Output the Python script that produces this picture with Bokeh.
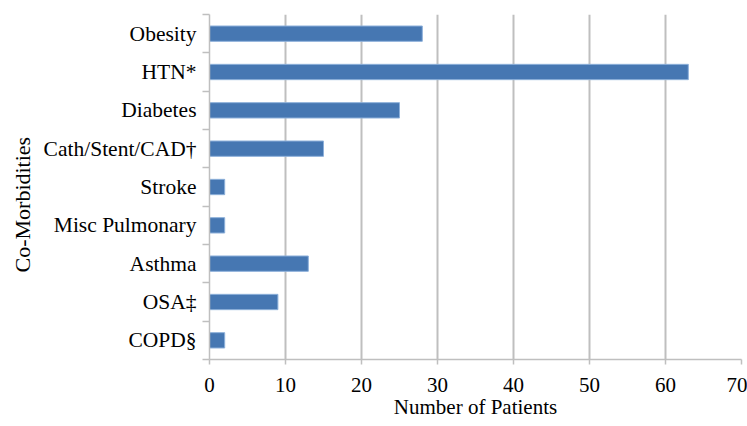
import math
from bokeh.plotting import figure
from bokeh.models import Range1d, FixedTicker, ColumnDataSource, Title
from bokeh.embed import file_html
from bokeh.resources import INLINE

categories = ["Obesity", "HTN*", "Diabetes", "Cath/Stent/CAD\u2020", "Stroke",
              "Misc Pulmonary", "Asthma", "OSA\u2021", "COPD\u00a7"]
values = [28, 63, 25, 15, 2, 2, 13, 9, 2]
x_ticks = [0, 10, 20, 30, 40, 50, 60, 70]
x_title = "Number of Patients"
y_title = "Co-Morbidities"

n = len(categories)
ypos = [n - i - 0.5 for i in range(n)]

src = ColumnDataSource(dict(y=ypos, v=values, c=categories))

FONT = "Liberation Serif"
GRID = "#BFBFBF"

p = figure(width=747, height=426, output_backend="svg", toolbar_location=None,
           x_range=Range1d(0, 70), y_range=Range1d(0, n),
           min_border_left=209, min_border_right=6, min_border_top=14, min_border_bottom=67)
p.outline_line_color = None
p.background_fill_color = "white"

p.hbar(y="y", right="v", left=0, height=0.4, source=src,
       fill_color="#4677B2", line_color="#8DB0DA", line_width=1)

# x axis
p.xaxis.ticker = FixedTicker(ticks=x_ticks)
p.xaxis.axis_label = x_title
p.xaxis.axis_label_text_font = FONT
p.xaxis.axis_label_text_font_size = "21px"
p.xaxis.axis_label_text_font_style = "normal"
p.xaxis.axis_label_text_color = "black"
p.xaxis.axis_label_standoff = 0
p.xaxis.major_label_text_font = FONT
p.xaxis.major_label_text_font_size = "21px"
p.xaxis.major_label_text_color = "black"
p.xaxis.major_label_standoff = 13
p.xaxis.axis_line_color = GRID
p.xaxis.axis_line_width = 1.5
p.xaxis.major_tick_line_color = GRID
p.xaxis.major_tick_line_width = 1.5
p.xaxis.major_tick_out = 5
p.xaxis.major_tick_in = 0
p.xaxis.minor_tick_line_color = None

# y axis
p.yaxis.ticker = FixedTicker(ticks=ypos, minor_ticks=list(range(n + 1)))
p.yaxis.major_label_overrides = {y: c for y, c in zip(ypos, categories)}
p.yaxis.major_label_text_font = FONT
p.yaxis.major_label_text_font_size = "21.5px"
p.yaxis.major_label_text_color = "black"
p.yaxis.major_label_standoff = 6
p.yaxis.major_tick_line_color = None
p.yaxis.minor_tick_line_color = GRID
p.yaxis.minor_tick_line_width = 1.5
p.yaxis.minor_tick_out = 7
p.yaxis.minor_tick_in = 0
p.yaxis.axis_line_color = GRID
p.yaxis.axis_line_width = 1.5

p.xgrid.grid_line_color = GRID
p.xgrid.grid_line_width = 2
p.ygrid.grid_line_color = None

p.add_layout(Title(text=y_title, text_font=FONT, text_font_size="22px",
                   text_font_style="normal", text_color="black", align="left",
                   offset=87, standoff=12), "left")

open("out.html", "w").write(file_html(p, INLINE))
